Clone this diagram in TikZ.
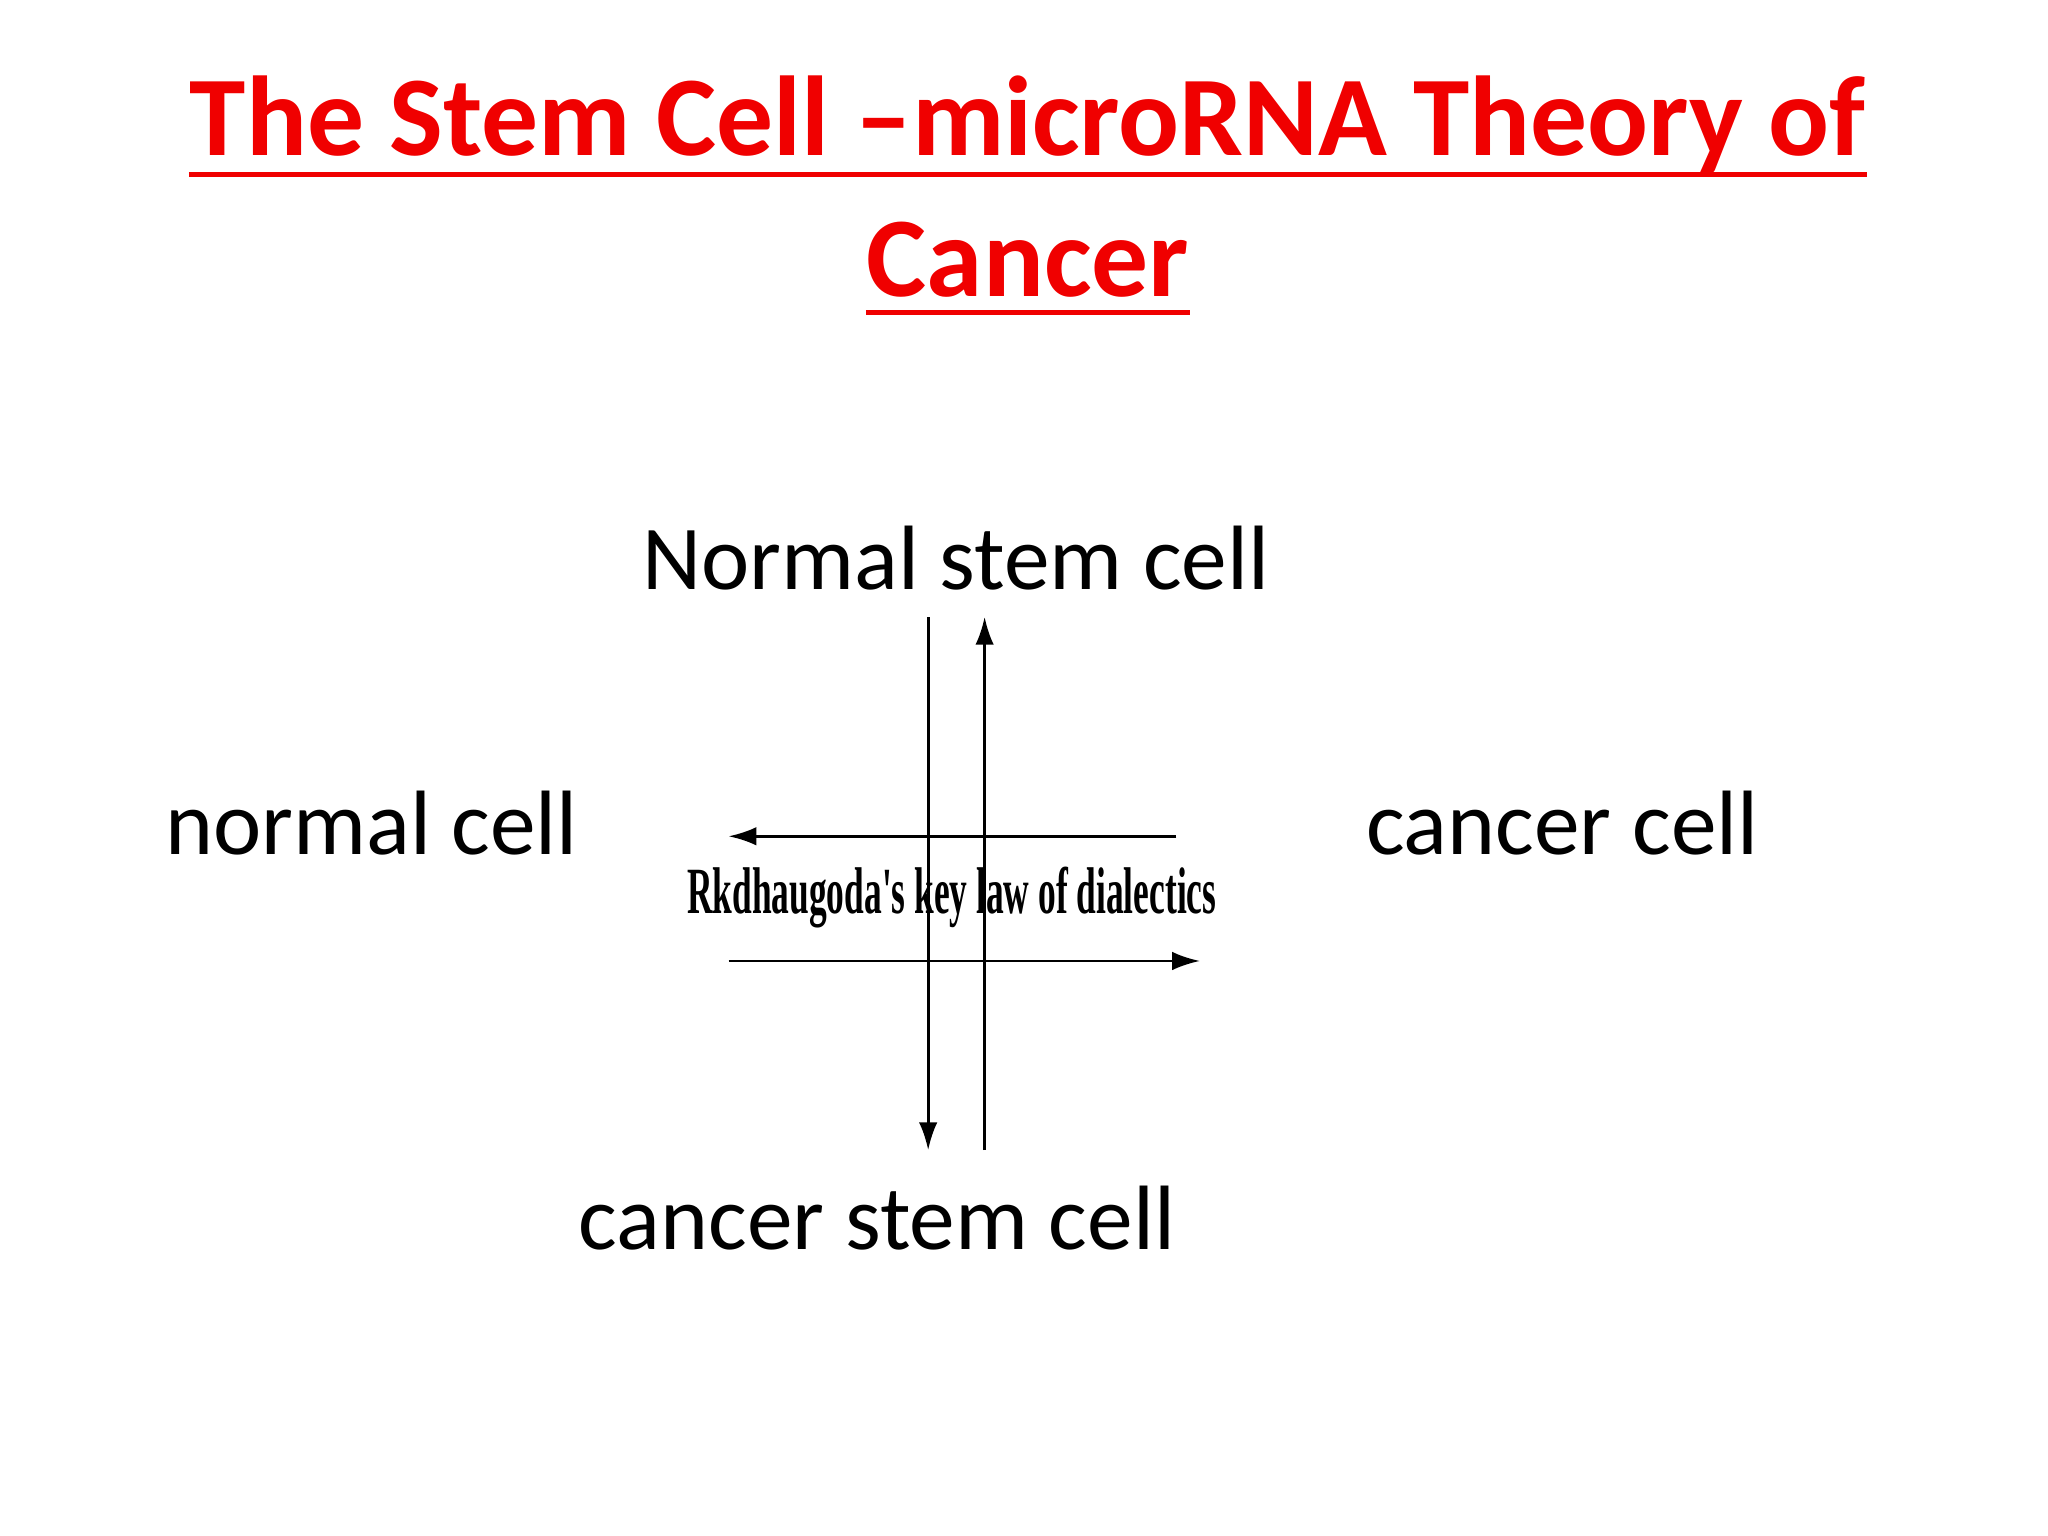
\documentclass[tikz,border=0pt]{standalone}
\usepackage{fontspec}
\setmainfont{Carlito}
\newfontfamily\timesf{Liberation Serif}
\usetikzlibrary{arrows.meta}
\definecolor{titlered}{RGB}{240,0,0}
\begin{document}
\begin{tikzpicture}[x=0.01cm,y=-0.01cm,
  lbl/.style={font=\fontsize{19.8}{24}\selectfont, inner sep=0pt},
  ttl/.style={font=\fontsize{24.6}{30}\selectfont\bfseries, text=titlered, inner sep=0pt},
  ul/.style={draw=titlered, line width=1.2pt},
  arr/.style={line width=0.6pt, -{Latex[length=6pt,width=4pt]}}]
\useasboundingbox (0,0) rectangle (1560,1170);
\node[ttl] (t1) at (783,95) {The Stem Cell –microRNA Theory of};
\node[ttl] (t2) at (783,198) {Cancer};
\draw[ul] (t1.west |- 0,133) -- (t1.east |- 0,133);
\draw[ul] (t2.west |- 0,238) -- (t2.east |- 0,238);
\node[lbl] (nsc) at (728,425) {Normal stem cell};
\node[lbl] (nc) at (283,627) {normal cell};
\node[lbl] (cc) at (1190,627) {cancer cell};
\node[lbl] (csc) at (668,928) {cancer stem cell};
\coordinate (a1) at (707,470); \coordinate (a2) at (707,876);
\coordinate (b1) at (750,876); \coordinate (b2) at (750,470);
\coordinate (c1) at (896,637); \coordinate (c2) at (555,637);
\coordinate (d1) at (555,732); \coordinate (d2) at (914,732);
\draw[arr] (a1) -- (a2);
\draw[arr] (b1) -- (b2);
\draw[arr] (c1) -- (c2);
\draw[arr] (d1) -- (d2);
\node[inner sep=0pt, font=\timesf\bfseries\fontsize{13}{16}\selectfont, xscale=0.59, yscale=1.1] (law) at (725,684) {Rkdhaugoda's key law of dialectics};
\end{tikzpicture}
\end{document}
